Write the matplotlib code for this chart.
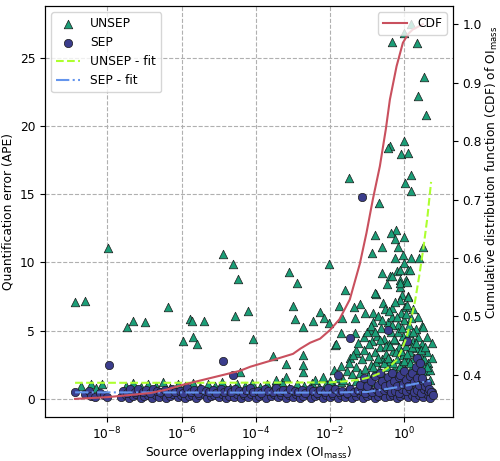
import matplotlib
matplotlib.use("Agg")
import numpy as np
import matplotlib.pyplot as plt
import matplotlib.ticker as mticker

plt.rcParams["font.size"] = 8.8

# x given as log10(OI_mass)

# UNSEP - scattered points above the band
unsep_out_logx = [-8.87, -8.60, -7.99, -7.48, -7.30, -6.98, -6.36, -5.97, -5.77, -5.73,
                  -5.68, -5.59, -5.41, -4.89, -4.62, -4.47, -4.57, -4.20, -4.09, -4.44,
                  -3.12, -2.88, -3.00, -2.95, -2.73, -3.54, -3.18, -3.18, -3.45, -2.73,
                  -2.73, -2.72, -2.02, -1.48, -2.45, -2.27, -2.16, -2.02, -1.88, -1.84,
                  -1.75, -1.68, -1.70, -1.61, -1.46, -1.30, -1.19, -1.05, -1.32, -0.68,
                  -0.80, -0.87, -0.60, -0.60, -0.48, -0.76, -0.38, -0.34, 0.00, 0.34,
                  0.17, 0.53, 0.38, 0.58, -0.40, 0.00, -0.09, 0.09, -0.43, 0.17,
                  0.03, 0.17, 0.50, -0.22, -0.36, -0.25, 0.00, -0.16, -0.03, 0.18,
                  0.40, 0.00, -0.26, -0.19, -0.34, -0.11, 0.05, -0.13, 0.11, 0.11,
                  -0.11, 0.16, -0.11, 0.08, -0.79, -0.07, 0.11, -1.35, -1.32, -0.84,
                  -0.57, -0.34, -0.11, 0.02, 0.24, 0.38, 0.47, 0.60, 0.74, 0.51,
                  -1.30, -1.10, -0.92]
unsep_out_y = [7.08, 7.20, 11.05, 5.29, 5.70, 5.65, 6.75, 4.26, 5.83, 5.73,
               4.55, 3.99, 5.73, 10.62, 9.89, 8.78, 6.08, 6.46, 4.36, 1.98,
               9.33, 8.52, 6.83, 5.83, 5.24, 3.13, 2.55, 1.57, 1.37, 1.98,
               2.47, 3.20, 9.89, 16.18, 5.73, 6.39, 5.90, 5.58, 3.94, 4.02,
               6.81, 5.90, 4.85, 7.98, 2.97, 3.38, 6.95, 6.27, 4.80, 14.35,
               12.02, 10.67, 11.16, 9.25, 8.42, 7.69, 9.00, 26.14, 26.83, 26.10,
               27.50, 23.60, 22.17, 20.83, 18.50, 18.92, 17.97, 18.02, 18.38, 16.42,
               15.81, 15.27, 11.16, 12.39, 12.19, 11.70, 11.85, 11.16, 10.55, 10.31,
               10.31, 9.94, 10.31, 9.40, 9.00, 8.72, 8.72, 8.23, 9.45, 7.56,
               9.45, 9.45, 8.52, 8.59, 7.74, 7.61, 7.49, 6.75, 5.90, 6.27,
               7.00, 6.64, 7.25, 6.75, 6.56, 6.02, 5.34, 4.50, 4.07, 5.24,
               3.58, 4.55, 5.04]

# UNSEP - dense cluster at high overlap
unsep_cl_logx = [-1.55, -1.50, -1.42, -1.38, -1.30, -1.25, -1.20, -1.15, -1.10, -1.05,
                 -1.00, -0.98, -0.95, -0.90, -0.88, -0.85, -0.82, -0.80, -0.76, -0.74,
                 -0.70, -0.68, -0.65, -0.62, -0.60, -0.58, -0.55, -0.52, -0.50, -0.48,
                 -0.45, -0.42, -0.40, -0.38, -0.35, -0.33, -0.30, -0.28, -0.25, -0.24,
                 -0.20, -0.18, -0.15, -0.13, -0.10, -0.08, -0.05, -0.03, 0.00, 0.02,
                 0.05, 0.08, 0.10, 0.12, 0.15, 0.18, 0.20, 0.22, 0.25, 0.27,
                 0.30, 0.33, 0.35, 0.38, 0.40, 0.42, 0.45, 0.48, 0.52, 0.55,
                 0.60, 0.65, 0.70, 0.75, -2.40, -2.20, -2.00, -1.90, -1.80, -1.70,
                 -1.65,
                 -0.95, -0.90, -0.85, -0.78, -0.72, -0.66, -0.60, -0.55, -0.50, -0.45,
                 -0.42, -0.38, -0.34, -0.30, -0.27, -0.22, -0.20, -0.17, -0.12, -0.10,
                 -0.06, -0.02, 0.02, 0.05, 0.08, 0.13, 0.16, 0.20, 0.24, 0.28,
                 0.32, 0.36, 0.44, 0.50, 0.56, 0.62]
unsep_cl_y = [2.0, 2.6, 1.8, 3.2, 2.3, 4.1, 1.9, 2.9, 3.6, 2.2,
              4.9, 1.7, 3.1, 2.5, 4.2, 5.6, 1.9, 3.4, 2.7, 4.6,
              6.1, 2.1, 3.8, 5.2, 2.9, 1.8, 4.4, 6.6, 3.3, 2.3,
              5.6, 4.0, 1.9, 2.8, 4.9, 6.0, 3.5, 2.2, 7.1, 4.3,
              2.9, 5.4, 3.8, 1.8, 6.3, 2.5, 4.6, 3.2, 5.8, 2.1,
              3.9, 6.9, 2.8, 4.8, 3.4, 5.9, 2.3, 4.2, 1.9, 3.0,
              5.1, 3.7, 2.5, 4.5, 1.8, 3.2, 2.3, 4.0, 2.9, 2.0,
              3.4, 2.6, 2.1, 3.0, 1.4, 1.6, 1.3, 2.1, 1.5, 2.4,
              1.4,
              4.0, 5.3, 2.3, 4.9, 3.0, 4.3, 5.8, 2.6, 3.9, 3.0,
              6.4, 3.9, 5.4, 2.6, 4.4, 3.4, 6.0, 4.9, 2.4, 3.5,
              5.2, 2.8, 4.2, 6.2, 3.3, 5.4, 2.6, 3.8, 4.9, 2.2,
              4.1, 3.1, 3.6, 2.5, 3.8, 2.3]

# UNSEP - low band (mostly hidden under SEP)
unsep_low_logx = [-8.70, -8.45, -8.30, -8.15, -7.50, -7.30, -7.10, -6.90, -6.70, -6.50,
                  -6.30, -6.10, -5.90, -5.70, -5.50, -5.30, -5.10, -4.90, -4.70, -4.50,
                  -4.30, -4.10, -3.90, -3.70, -3.50, -3.30, -3.10, -2.90, -2.70, -2.50,
                  -2.30, -2.10, -1.90, -1.70, -1.50, -1.30, -1.10, -0.90, -0.70, -0.50,
                  -0.30, -0.10, 0.10, 0.30, 0.50, 0.70]
unsep_low_y = [0.90, 1.10, 0.80, 1.05, 0.90, 1.15, 0.85, 1.10, 0.95, 1.20,
               0.80, 1.05, 0.90, 1.15, 0.85, 1.10, 0.95, 1.20, 0.80, 1.05,
               0.90, 1.15, 0.85, 1.10, 0.95, 1.20, 0.80, 1.05, 0.90, 1.15,
               0.85, 1.10, 0.95, 1.20, 0.90, 1.30, 1.00, 1.25, 1.10, 1.35,
               1.20, 1.40, 1.30, 1.50, 1.20, 1.40]

# SEP - main band
sep_a_logx = [-7.62, -7.51, -7.43, -7.30, -7.22, -7.10, -7.01, -6.90, -6.81, -6.70,
              -6.62, -6.50, -6.41, -6.30, -6.22, -6.10, -6.02, -5.91, -5.80, -5.71,
              -5.60, -5.52, -5.40, -5.31, -5.20, -5.12, -5.00, -4.91, -4.80, -4.72,
              -4.60, -4.51, -4.40, -4.31, -4.20, -4.12, -4.00, -3.91, -3.80, -3.72,
              -3.60, -3.51, -3.40, -3.31, -3.20, -3.12, -3.00, -2.91, -2.80, -2.72,
              -2.60, -2.51, -2.40, -2.31, -2.20, -2.12, -2.00, -1.91, -1.80, -1.72,
              -1.60, -1.51, -1.40, -1.31, -1.20, -1.12, -1.00, -0.91, -0.80, -0.72,
              -0.60, -0.51, -0.40, -0.31, -0.20, -0.12, 0.00, 0.09, 0.20, 0.28,
              0.40, 0.49, 0.60, 0.70]
sep_a_y = [0.12, 0.30, 0.05, 0.22, 0.35, 0.08, 0.18, 0.28, 0.03, 0.25,
           0.15, 0.33, 0.06, 0.20, 0.37, 0.10, 0.26, 0.02, 0.17, 0.31,
           0.09, 0.24, 0.36, 0.04, 0.19, 0.29, 0.11, 0.34, 0.07, 0.23,
           0.14, 0.32, 0.05, 0.27, 0.16, 0.38, 0.08, 0.21, 0.30, 0.03,
           0.18, 0.35, 0.10, 0.25, 0.06, 0.29, 0.13, 0.33, 0.04, 0.22,
           0.37, 0.09, 0.19, 0.28, 0.02, 0.24, 0.15, 0.31, 0.07, 0.26,
           0.11, 0.36, 0.05, 0.20, 0.32, 0.08, 0.17, 0.27, 0.03, 0.23,
           0.34, 0.10, 0.21, 0.30, 0.06, 0.18, 0.38, 0.12, 0.25, 0.04,
           0.29, 0.14, 0.33, 0.09]
sep_b_logx = [-7.57, -7.46, -7.38, -7.25, -7.17, -7.05, -6.96, -6.85, -6.76, -6.65,
              -6.57, -6.45, -6.36, -6.25, -6.17, -6.05, -5.97, -5.86, -5.75, -5.66,
              -5.55, -5.47, -5.35, -5.26, -5.15, -5.07, -4.95, -4.86, -4.75, -4.67,
              -4.55, -4.46, -4.35, -4.26, -4.15, -4.07, -3.95, -3.86, -3.75, -3.67,
              -3.55, -3.46, -3.35, -3.26, -3.15, -3.07, -2.95, -2.86, -2.75, -2.67,
              -2.55, -2.46, -2.35, -2.26, -2.15, -2.07, -1.95, -1.86, -1.75, -1.67,
              -1.55, -1.46, -1.35, -1.26, -1.15, -1.07, -0.95, -0.86, -0.75, -0.67,
              -0.55, -0.46, -0.35, -0.26, -0.15, -0.07, 0.05, 0.14, 0.25, 0.33,
              0.45, 0.54, 0.65, 0.75]
sep_b_y = [0.55, 0.42, 0.68, 0.48, 0.75, 0.51, 0.62, 0.44, 0.71, 0.58,
           0.46, 0.66, 0.40, 0.73, 0.53, 0.60, 0.45, 0.77, 0.50, 0.64,
           0.43, 0.70, 0.56, 0.47, 0.67, 0.41, 0.74, 0.52, 0.61, 0.49,
           0.72, 0.57, 0.44, 0.65, 0.78, 0.48, 0.59, 0.42, 0.69, 0.54,
           0.46, 0.76, 0.51, 0.63, 0.40, 0.70, 0.55, 0.47, 0.66, 0.43,
           0.73, 0.58, 0.45, 0.62, 0.50, 0.77, 0.41, 0.68, 0.53, 0.60,
           0.44, 0.71, 0.49, 0.65, 0.56, 0.42, 0.74, 0.52, 0.67, 0.46,
           0.61, 0.78, 0.48, 0.57, 0.43, 0.69, 0.54, 0.72, 0.50, 0.64,
           0.45, 0.75, 0.59, 0.47]

# SEP - left cluster, right spread and outliers
sep_c_logx = [-8.87, -8.60, -8.50, -8.45, -8.33, -8.20, -8.10, -8.02,
              -1.20, -1.10, -1.00, -0.90, -0.80, -0.72, -0.66, -0.60, -0.52, -0.45,
              -0.40, -0.34, -0.28, -0.20, -0.15, -0.11, -0.05, 0.00, 0.05, 0.10,
              0.15, 0.20, 0.25, 0.30, 0.35, 0.40, 0.45, 0.50, 0.55, 0.60,
              0.66, 0.72, 0.78,
              -7.95, -4.89, -4.62, -1.14, -1.46, -0.45, -1.78, 0.08, 0.33, 0.42,
              0.47]
sep_c_y = [0.47, 0.35, 0.55, 0.20, 0.15, 0.45, 0.30, 0.10,
           1.00, 1.50, 0.90, 1.30, 1.70, 1.00, 1.86, 1.30, 0.95, 1.60,
           1.10, 1.86, 1.30, 0.90, 1.60, 1.74, 1.10, 2.00, 1.40, 0.95,
           1.70, 1.86, 1.20, 2.30, 1.50, 1.00, 2.00, 1.30, 0.90, 1.13,
           0.70, 0.50, 0.30,
           2.47, 2.79, 1.74, 14.83, 4.43, 5.04, 1.74, 4.20, 2.97, 2.60,
           1.50]

# fitted curves
unsep_fit_logx = [-8.87, -6.0, -4.0, -2.0, -1.5, -1.2, -0.9, -0.66, -0.4, -0.21,
                  -0.1, 0.06, 0.18, 0.29, 0.40, 0.51, 0.62, 0.72]
unsep_fit_y = [1.17, 1.17, 1.18, 1.20, 1.30, 1.40, 1.60, 1.88, 2.35, 2.84,
               3.40, 4.50, 5.80, 7.20, 9.00, 11.00, 13.30, 15.90]
sep_fit_logx = [-8.87, -6.0, -4.0, -2.0, -1.0, -0.66, -0.11, 0.3, 0.7]
sep_fit_y = [0.47, 0.46, 0.45, 0.45, 0.50, 0.64, 0.88, 1.10, 1.32]

# CDF of OI_mass
cdf_logx = [-8.87, -8.0, -7.5, -6.85, -6.4, -5.97, -5.59, -4.88, -4.43, -4.15,
            -3.62, -3.0, -2.8, -2.54, -2.27, -2.0, -1.75, -1.47, -1.2, -1.02,
            -0.85, -0.66, -0.5, -0.39, -0.21, -0.04, 0.1, 0.23, 0.5]
cdf_y = [0.359, 0.362, 0.365, 0.369, 0.375, 0.383, 0.389, 0.400, 0.407, 0.414,
         0.424, 0.436, 0.445, 0.455, 0.462, 0.477, 0.495, 0.529, 0.59, 0.643,
         0.70, 0.757, 0.82, 0.871, 0.928, 0.968, 0.983, 0.991, 1.0]

c_unsep = "#1b9e77"
c_sep = "#3b3d8c"

fig, ax = plt.subplots(figsize=(5, 4.61), dpi=100)
fig.subplots_adjust(left=0.09, right=0.906, bottom=0.0954, top=0.987)

ux = 10.0 ** np.array(unsep_low_logx + unsep_out_logx + unsep_cl_logx)
uy = np.array(unsep_low_y + unsep_out_y + unsep_cl_y)
sx = 10.0 ** np.array(sep_a_logx + sep_b_logx + sep_c_logx)
sy = np.array(sep_a_y + sep_b_y + sep_c_y)

ax.scatter(ux, uy, marker="^", s=38, color=c_unsep, edgecolors="#1a1a1a",
           linewidths=0.5, label="UNSEP", zorder=2)
ax.scatter(sx, sy, marker="o", s=36, color=c_sep, edgecolors="#1a1a1a",
           linewidths=0.5, label="SEP", zorder=3)
ax.plot(10.0 ** np.array(unsep_fit_logx), unsep_fit_y, ls="--", color="greenyellow",
        lw=1.5, label="UNSEP - fit", zorder=4)
ax.plot(10.0 ** np.array(sep_fit_logx), sep_fit_y, ls="-.", color="cornflowerblue",
        lw=1.5, label="SEP - fit", zorder=4)

ax.set_xscale("log")
ax.set_xlim(10 ** -9.68, 10 ** 1.31)
ax.set_ylim(-1.34, 28.8)
ax.xaxis.set_major_locator(mticker.FixedLocator([1e-8, 1e-6, 1e-4, 1e-2, 1e0]))
ax.xaxis.set_minor_locator(mticker.NullLocator())
ax.set_yticks([0, 5, 10, 15, 20, 25])
ax.tick_params(axis="x", pad=2.5)
ax.grid(True, ls="--", color="#b0b0b0", lw=0.8)
ax.set_axisbelow(True)
ax.set_xlabel(r"Source overlapping index (OI$_{\mathrm{mass}}$)", labelpad=1.5)
ax.set_ylabel("Quantification error (APE)")
ax.legend(loc="upper left")

ax2 = ax.twinx()
ax2.plot(10.0 ** np.array(cdf_logx), cdf_y, color="#c9505e", lw=1.5, label="CDF")
ax2.set_ylim(0.328, 1.031)
ax2.set_yticks([0.4, 0.5, 0.6, 0.7, 0.8, 0.9, 1.0])
ax2.set_ylabel(r"Cumulative distribution function (CDF) of OI$_{\mathrm{mass}}$")
ax2.yaxis.set_label_coords(1.075, 0.596)
ax2.legend(loc="upper right")

fig.savefig("out.png", dpi=100)
